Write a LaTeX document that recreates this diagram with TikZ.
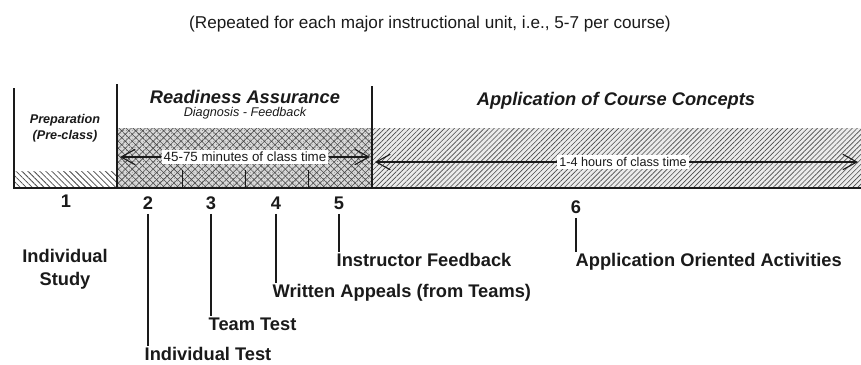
\documentclass[tikz,border=0pt]{standalone}
\usepackage{fontspec}
\setmainfont{Liberation Sans}
\usepackage{tikz}
\usetikzlibrary{arrows.meta,positioning,patterns.meta}
\definecolor{tbink}{HTML}{1A1A1A}
\definecolor{tbshade}{HTML}{4A4A4A}

\begin{document}
\begin{tikzpicture}[x=0.025cm,y=-0.025cm,
  num/.style={font=\fontsize{13}{15}\selectfont\bfseries,inner sep=1pt,text=tbink},
  lbl/.style={font=\fontsize{13}{16.4}\selectfont\bfseries,anchor=west,inner sep=1pt,
    align=center,text=tbink},
  head/.style={font=\fontsize{13}{15}\selectfont\bfseries\itshape,inner sep=1pt,text=tbink},
  sub/.style={font=\fontsize{9}{11.5}\selectfont\itshape,inner sep=1pt,align=center,text=tbink},
  span/.style={font=\fontsize{9.5}{11}\selectfont,fill=white,inner sep=1.5pt,text=tbink},
  stem/.style={line width=0.9pt,tbink},
  wall/.style={line width=1.2pt,tbink},
  arr/.style={-{Straight Barb[length=10pt,width=11pt]},line width=0.8pt,tbink}]
  \useasboundingbox (0,0) rectangle (861,364);

  % shaded bands
  \fill[gray!30] (117,128) rectangle (372,188);
  \fill[pattern={Hatch[angle=45,distance=3.5pt,line width=0.4pt]},pattern color=tbshade]
    (117,128) rectangle (372,188);
  \fill[pattern={Dots[distance=2pt,radius=0.25pt]},pattern color=tbshade]
    (117,128) rectangle (372,188);
  \fill[gray!16] (372,128) rectangle (861,188);
  \fill[pattern={Lines[angle=45,distance=2.5pt,line width=0.45pt]},pattern color=tbshade]
    (372,128) rectangle (861,188);
  \fill[pattern={Lines[angle=-45,distance=3pt,line width=0.55pt]},pattern color=tbshade]
    (14,171) rectangle (117,188);
  \foreach \x in {182,245,308}
    \draw[stem,line width=0.6pt] (\x,170) -- (\x,188);

  % frame
  \draw[wall] (14,88) -- (14,188);
  \draw[wall] (117,84) -- (117,188);
  \draw[wall] (372,86) -- (372,188);
  \draw[tbink,line width=1.8pt] (13,188) -- (861,188);

  % headings
  \node[font=\fontsize{12.2}{14}\selectfont,text=tbink] (title) at (430,24)
    {(Repeated for each major instructional unit, i.e., 5-7 per course)};
  \node[sub,font=\fontsize{9}{11.5}\selectfont\bfseries\itshape] (prep) at (65,128)
    {Preparation\\(Pre-class)};
  \node[head] (ra) at (245,97) {Readiness Assurance};
  \node[sub] (df) at (245,113) {Diagnosis - Feedback};
  \node[head] (acc) at (616,101) {Application of Course Concepts};

  % class time spans
  \node[span] (ram) at (245,157) {45-75 minutes of class time};
  \coordinate (ram-l) at (120,157);
  \coordinate (ram-r) at (370,157);
  \draw[arr] (ram) -- (ram-l);
  \draw[arr] (ram) -- (ram-r);
  \node[span,font=\fontsize{9}{11}\selectfont] (acm) at (623,162) {1-4 hours of class time};
  \coordinate (acm-l) at (375,162);
  \coordinate (acm-r) at (858,162);
  \draw[arr] (acm) -- (acm-l);
  \draw[arr] (acm) -- (acm-r);

  % steps
  \node[num] (n1) at (66,201) {1};
  \node[num] (n2) at (148,203) {2};
  \node[num] (n3) at (211,203) {3};
  \node[num] (n4) at (276,203) {4};
  \node[num] (n5) at (339,203) {5};
  \node[num] (n6) at (576,207) {6};

  \node[lbl,anchor=center] (l1) at (65,269) {Individual\\Study};
  \node[lbl] (l2) at (143,354) {Individual Test};
  \node[lbl] (l3) at (207,324) {Team Test};
  \node[lbl] (l4) at (271,293) {Written Appeals (from Teams)};
  \node[lbl] (l5) at (335,260) {Instructor Feedback};
  \node[lbl] (l6) at (574,262) {Application Oriented Activities};

  \foreach \i in {2,...,6}
    \draw[stem] ([yshift=-2pt]n\i.south) -- (n\i.south |- l\i.north);
\end{tikzpicture}
\end{document}
